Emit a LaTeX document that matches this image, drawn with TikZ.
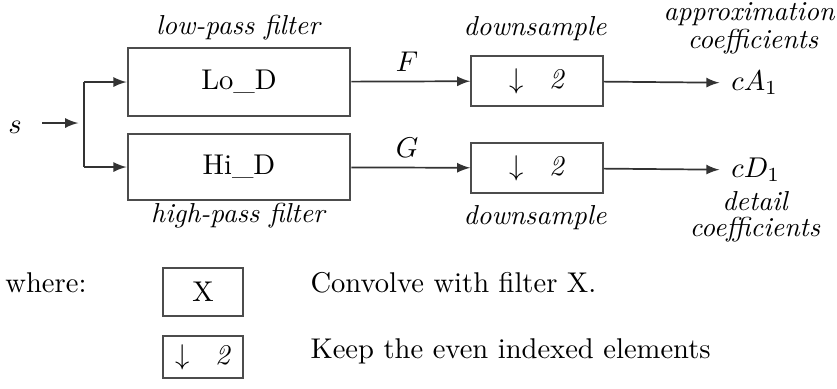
\documentclass[tikz,border=0pt]{standalone}
\usepackage{amsmath}
\usetikzlibrary{arrows, positioning}

\tikzset{
  blk/.style={draw=black!70, line width=0.7pt, inner sep=0pt},
  wire/.style={draw=black!80, line width=0.6pt},
  lbl/.style={inner sep=0pt, font=\fontsize{9.6}{11}\selectfont\itshape},
}
\newcommand{\dnsmp}{$\downarrow$\hspace{0.9em}\textit{2}}

\begin{document}
\begin{tikzpicture}[x=0.35pt, y=-0.35pt, >=latex]
			\useasboundingbox (0,0) rectangle (837,388);
			% main filter bank
			\draw (239,82)  node[blk, minimum width=78pt, minimum height=24pt] (lo){Lo\_D}
			(239,167) node[blk, minimum width=78pt, minimum height=23pt] (hi){Hi\_D}
			(537,81)  node[blk, minimum width=46pt, minimum height=17.5pt] (dlo){\dnsmp}
			(537,168) node[blk, minimum width=46pt, minimum height=17.5pt] (dhi){\dnsmp}
			(15,127)  node[inner sep=0pt] (s){$s$}
			(728,83)  node[anchor=west, inner sep=1pt] (ca){$cA_1$}
			(728,170) node[anchor=west, inner sep=1pt] (cd){$cD_1$};
			
			\coordinate (in) at (42,123);
			\coordinate (sp) at (84,123);
			\coordinate (spa) at (sp |- lo.west);
			\coordinate (spb) at (sp |- hi.west);
			
			% labels
			\node[lbl] at (238,28) (lpf) {low-pass filter};
			\node[lbl] at (238,216) (hpf) {high-pass filter};
			\node[lbl] at (535,29) (ds1) {downsample};
			\node[lbl] at (535,218) (ds2) {downsample};
			\node[lbl] at (749,14) (apx) {approximation};
			\node[lbl] at (753,42) (apc) {coefficients};
			\node[lbl] at (755,201) (dtl) {detail};
			\node[lbl] at (755,230) (dtc) {coefficients};
			\node[inner sep=0pt] at (407,62) (f) {$F$};
			\node[inner sep=0pt] at (407,148) (g) {$G$};
			
			\draw[wire,->,shorten >=2pt] (in) -- (sp);
			\draw[wire] (spa) -- (spb);
			\draw[wire,->] (spa) -- (lo);
			\draw[wire,->] (spb) -- (hi);
			\draw[wire,->] (lo) -- (dlo);
			\draw[wire,->] (hi) -- (dhi);
			\draw[wire,->,shorten >=3pt] (dlo) -- (ca);
			\draw[wire,->,shorten >=3pt] (dhi) -- (cd);
			
			% legend
			\draw (46,283)  node[inner sep=0pt] (wh){where:}
			(203,292) node[blk, minimum width=28pt, minimum height=16.5pt] (kx){X}
			(203,357) node[blk, minimum width=28pt, minimum height=14.5pt] (kd){\dnsmp}
			(310,283) node[anchor=west, inner sep=0pt] (tx){Convolve with filter X.}
			(310,351) node[anchor=west, inner sep=0pt] (td){Keep the even indexed elements};
		\end{tikzpicture}
\end{document}
